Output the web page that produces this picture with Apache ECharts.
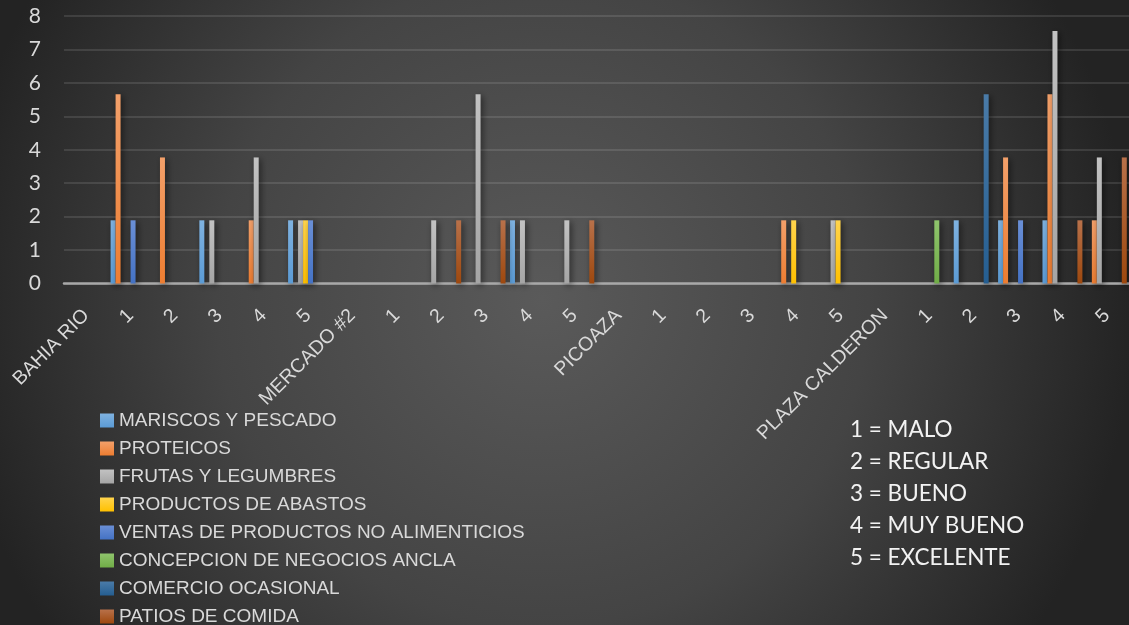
<!DOCTYPE html>
<html>
<head>
<meta charset="utf-8">
<script src="https://cdn.jsdelivr.net/npm/echarts@6/dist/echarts.min.js"></script>
<style>
html,body{margin:0;padding:0;background:#333;}
#chart{width:1129px;height:625px;}
</style>
</head>
<body>
<div id="chart"></div>
<script>
// ---- data ----
const categories = ['BAHIA RIO','1','2','3','4','5','MERCADO #2','1','2','3','4','5','PICOAZA','1','2','3','4','5','PLAZA CALDERON','1','2','3','4','5'];
const seriesNames = ['MARISCOS Y PESCADO','PROTEICOS','FRUTAS Y LEGUMBRES','PRODUCTOS DE ABASTOS','VENTAS DE PRODUCTOS NO ALIMENTICIOS','CONCEPCION DE NEGOCIOS ANCLA','COMERCIO OCASIONAL','PATIOS DE COMIDA'];
const mariscos   = [null,1.89,null,1.89,null,1.89,null,null,null,null,1.89,null,null,null,null,null,null,null,null,null,1.89,1.89,1.89,null];
const proteicos  = [null,5.66,3.77,null,1.89,null,null,null,null,null,null,null,null,null,null,null,1.89,null,null,null,null,3.77,5.66,1.89];
const frutas     = [null,null,null,1.89,3.77,1.89,null,null,1.89,5.66,1.89,1.89,null,null,null,null,null,1.89,null,null,null,null,7.55,3.77];
const abastos    = [null,null,null,null,null,1.89,null,null,null,null,null,null,null,null,null,null,1.89,1.89,null,null,null,null,null,null];
const ventas     = [null,1.89,null,null,null,1.89,null,null,null,null,null,null,null,null,null,null,null,null,null,null,null,1.89,null,null];
const concepcion = [null,null,null,null,null,null,null,null,null,null,null,null,null,null,null,null,null,null,null,1.89,null,null,null,null];
const comercio   = [null,null,null,null,null,null,null,null,null,null,null,null,null,null,null,null,null,null,null,null,5.66,null,null,null];
const patios     = [null,null,null,null,null,null,null,null,1.89,1.89,null,1.89,null,null,null,null,null,null,null,null,null,null,1.89,3.77];
const yTicks = [0,1,2,3,4,5,6,7,8];
const ratingLines = ['1 = MALO','2 = REGULAR','3 = BUENO','4 = MUY BUENO','5 = EXCELENTE'];

const seriesData = [mariscos, proteicos, frutas, abastos, ventas, concepcion, comercio, patios];
const colors = ['#5B9BD5','#ED7D31','#A5A5A5','#FFC000','#4472C4','#70AD47','#255E91','#9E480E'];
const topColors = ['#7FB2E0','#F3A06A','#C2C2C2','#FFD44D','#6A8FD6','#8FC46C','#4A7BA8','#B8714A'];

const chart = echarts.init(document.getElementById('chart'));
const FONT = 'Lato, sans-serif';
const FONT2 = "'Liberation Sans', Arial, sans-serif";

const option = {
  animation: false,
  color: colors,
  textStyle: { fontFamily: FONT },
  graphic: [
    {
      type: 'rect', z: -10, silent: true,
      shape: { x: 0, y: 0, width: 1129, height: 625 },
      style: {
        fill: new echarts.graphic.RadialGradient(0.48, 0.48, 0.95, [
          { offset: 0, color: '#5a5a5a' },
          { offset: 0.55, color: '#444444' },
          { offset: 1, color: '#232323' }
        ])
      }
    },
    {
      type: 'text', left: 850, top: 414, silent: true,
      style: {
        text: ratingLines.join('\n'),
        fill: '#f2f2f2',
        font: '22.5px ' + FONT,
        lineHeight: 32
      }
    }
  ],
  grid: { left: 64, right: 0, top: 16, bottom: 625 - 283.5, containLabel: false },
  legend: {
    orient: 'vertical',
    left: 95, top: 406, height: 400,
    itemWidth: 14, itemHeight: 14, itemGap: 9,
    icon: 'rect',
    data: seriesNames,
    textStyle: { color: '#d9d9d9', fontSize: 19, lineHeight: 19, fontFamily: FONT2 }
  },
  xAxis: {
    type: 'category',
    data: categories,
    axisLine: { lineStyle: { color: '#a8a8a8', width: 2.5 } },
    axisTick: { show: false },
    axisLabel: {
      interval: 0, rotate: 45, margin: 29,
      color: '#d9d9d9', fontSize: 19.5, fontFamily: FONT2
    }
  },
  yAxis: {
    type: 'value', min: yTicks[0], max: yTicks[yTicks.length - 1], interval: 1,
    axisLine: { show: false },
    axisTick: { show: false },
    axisLabel: { color: '#d9d9d9', fontSize: 21, margin: 23, fontFamily: FONT },
    splitLine: { lineStyle: { color: 'rgba(255,255,255,0.11)', width: 2 } }
  },
  series: seriesNames.map((name, i) => ({
    name: name,
    type: 'bar',
    data: seriesData[i],
    barGap: '0%',
    barCategoryGap: '10%',
    itemStyle: {
      color: new echarts.graphic.LinearGradient(0, 0, 0, 1, [
        { offset: 0, color: topColors[i] },
        { offset: 1, color: colors[i] }
      ]),
      shadowBlur: 6, shadowColor: 'rgba(0,0,0,0.55)', shadowOffsetX: 2, shadowOffsetY: 2
    }
  }))
};
chart.setOption(option);
</script>
</body>
</html>
